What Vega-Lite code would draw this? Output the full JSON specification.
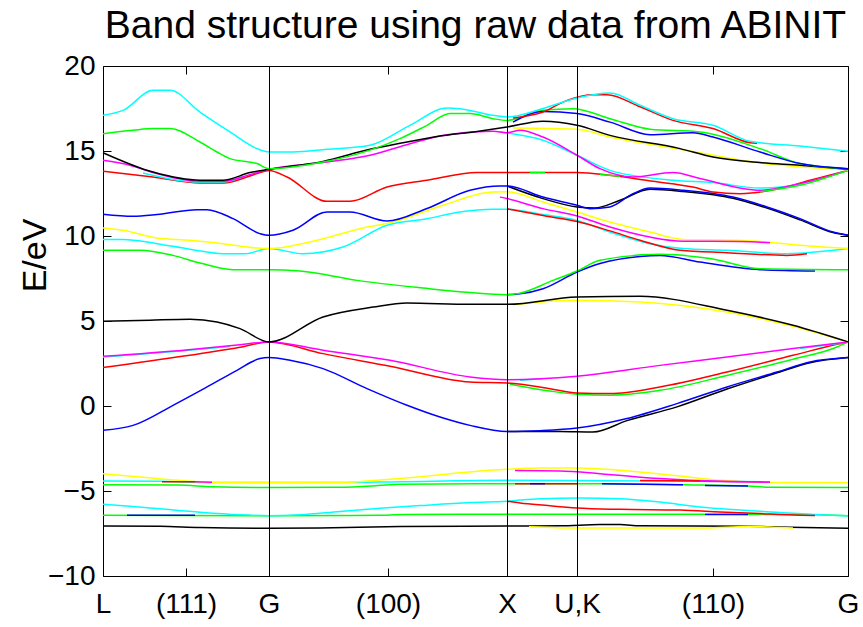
{
  "$schema": "https://vega.github.io/schema/vega-lite/v6.json",
  "width": 745,
  "height": 510,
  "autosize": {"type": "none"},
  "padding": {"left": 103, "top": 66, "right": 15, "bottom": 51},
  "background": "white",
  "config": {
    "font": "Liberation Sans",
    "view": {"stroke": "#000000", "strokeWidth": 1},
    "axis": {"grid": false, "domain": false, "tickColor": "#000000", "tickWidth": 1, "labelColor": "#000000", "labelFont": "Liberation Sans"}
  },
  "title": {
    "text": "Band structure using raw data from ABINIT",
    "font": "Liberation Sans",
    "fontSize": 39,
    "fontWeight": "normal",
    "color": "#000000",
    "anchor": "middle",
    "frame": "group",
    "baseline": "alphabetic",
    "offset": -25
  },
  "datasets": {
    "bands": [
      {"s":"k1","c":"k","x":0,"e":-7.06},{"s":"k1","c":"k","x":57,"e":-7.08},{"s":"k1","c":"k","x":97,"e":-7.15},{"s":"k1","c":"k","x":166,"e":-7.19},{"s":"k1","c":"k","x":217,"e":-7.17},{"s":"k1","c":"k","x":297,"e":-7.09},{"s":"k1","c":"k","x":404,"e":-7.06},{"s":"k1","c":"k","x":457,"e":-7.05},{"s":"k1","c":"k","x":497,"e":-6.97},{"s":"k1","c":"k","x":517,"e":-6.97},{"s":"k1","c":"k","x":537,"e":-7.05},{"s":"k1","c":"k","x":645,"e":-7.07},{"s":"k1","c":"k","x":687,"e":-7.13},{"s":"k1","c":"k","x":745,"e":-7.19},
      {"s":"y1","c":"y","x":426,"e":-7.1},{"s":"y1","c":"y","x":474,"e":-7.18},{"s":"y1","c":"y","x":602,"e":-7.18},{"s":"y1","c":"y","x":645,"e":-7.09},{"s":"y1","c":"y","x":667,"e":-7.12},{"s":"y1","c":"y","x":690,"e":-7.18},
      {"s":"g1","c":"g","x":0,"e":-6.43},{"s":"g1","c":"g","x":166,"e":-6.45},{"s":"g1","c":"g","x":275,"e":-6.43},{"s":"g1","c":"g","x":300,"e":-6.38},{"s":"g1","c":"g","x":404,"e":-6.37},{"s":"g1","c":"g","x":537,"e":-6.37},{"s":"g1","c":"g","x":697,"e":-6.38},{"s":"g1","c":"g","x":745,"e":-6.45},
      {"s":"b1","c":"b","x":24,"e":-6.43},{"s":"b1","c":"b","x":92,"e":-6.43},
      {"s":"b2","c":"b","x":602,"e":-6.38},{"s":"b2","c":"b","x":645,"e":-6.38},
      {"s":"c1","c":"c","x":0,"e":-5.78},{"s":"c1","c":"c","x":27,"e":-5.9},{"s":"c1","c":"c","x":57,"e":-6.05},{"s":"c1","c":"c","x":97,"e":-6.25},{"s":"c1","c":"c","x":137,"e":-6.4},{"s":"c1","c":"c","x":166,"e":-6.45},{"s":"c1","c":"c","x":197,"e":-6.4},{"s":"c1","c":"c","x":237,"e":-6.2},{"s":"c1","c":"c","x":277,"e":-6.02},{"s":"c1","c":"c","x":317,"e":-5.86},{"s":"c1","c":"c","x":367,"e":-5.68},{"s":"c1","c":"c","x":404,"e":-5.6},{"s":"c1","c":"c","x":437,"e":-5.45},{"s":"c1","c":"c","x":477,"e":-5.41},{"s":"c1","c":"c","x":517,"e":-5.45},{"s":"c1","c":"c","x":557,"e":-5.65},{"s":"c1","c":"c","x":597,"e":-5.94},{"s":"c1","c":"c","x":637,"e":-6.12},{"s":"c1","c":"c","x":677,"e":-6.27},{"s":"c1","c":"c","x":717,"e":-6.4},{"s":"c1","c":"c","x":745,"e":-6.45},
      {"s":"r1","c":"r","x":404,"e":-5.6},{"s":"r1","c":"r","x":417,"e":-5.7},{"s":"r1","c":"r","x":442,"e":-5.84},{"s":"r1","c":"r","x":474,"e":-6.0},{"s":"r1","c":"r","x":517,"e":-6.08},{"s":"r1","c":"r","x":577,"e":-6.12},{"s":"r1","c":"r","x":617,"e":-6.23},{"s":"r1","c":"r","x":657,"e":-6.33},{"s":"r1","c":"r","x":697,"e":-6.42},{"s":"r1","c":"r","x":712,"e":-6.44},
      {"s":"g2","c":"g","x":0,"e":-4.63},{"s":"g2","c":"g","x":75,"e":-4.65},{"s":"g2","c":"g","x":109,"e":-4.75},{"s":"g2","c":"g","x":166,"e":-4.8},{"s":"g2","c":"g","x":236,"e":-4.78},{"s":"g2","c":"g","x":275,"e":-4.68},{"s":"g2","c":"g","x":297,"e":-4.6},{"s":"g2","c":"g","x":404,"e":-4.57},{"s":"g2","c":"g","x":497,"e":-4.57},{"s":"g2","c":"g","x":580,"e":-4.63},{"s":"g2","c":"g","x":645,"e":-4.7},{"s":"g2","c":"g","x":667,"e":-4.78},{"s":"g2","c":"g","x":745,"e":-4.8},
      {"s":"r2","c":"r","x":412,"e":-4.57},{"s":"r2","c":"r","x":474,"e":-4.57},
      {"s":"b3","c":"b","x":427,"e":-4.57},{"s":"b3","c":"b","x":442,"e":-4.57},
      {"s":"b4","c":"b","x":499,"e":-4.58},{"s":"b4","c":"b","x":580,"e":-4.63},
      {"s":"b5","c":"b","x":602,"e":-4.67},{"s":"b5","c":"b","x":645,"e":-4.7},
      {"s":"c2","c":"c","x":0,"e":-4.41},{"s":"c2","c":"c","x":57,"e":-4.43},{"s":"c2","c":"c","x":107,"e":-4.5},{"s":"c2","c":"c","x":237,"e":-4.5},{"s":"c2","c":"c","x":297,"e":-4.45},{"s":"c2","c":"c","x":404,"e":-4.37},{"s":"c2","c":"c","x":497,"e":-4.4},{"s":"c2","c":"c","x":597,"e":-4.43},{"s":"c2","c":"c","x":667,"e":-4.46},
      {"s":"y2","c":"y","x":0,"e":-3.98},{"s":"y2","c":"y","x":37,"e":-4.17},{"s":"y2","c":"y","x":75,"e":-4.37},{"s":"y2","c":"y","x":107,"e":-4.5},{"s":"y2","c":"y","x":237,"e":-4.5},{"s":"y2","c":"y","x":267,"e":-4.4},{"s":"y2","c":"y","x":297,"e":-4.27},{"s":"y2","c":"y","x":337,"e":-4.05},{"s":"y2","c":"y","x":377,"e":-3.82},{"s":"y2","c":"y","x":404,"e":-3.72},{"s":"y2","c":"y","x":437,"e":-3.64},{"s":"y2","c":"y","x":477,"e":-3.64},{"s":"y2","c":"y","x":517,"e":-3.78},{"s":"y2","c":"y","x":577,"e":-4.12},{"s":"y2","c":"y","x":617,"e":-4.37},{"s":"y2","c":"y","x":667,"e":-4.5},{"s":"y2","c":"y","x":745,"e":-4.5},
      {"s":"m1","c":"m","x":412,"e":-3.8},{"s":"m1","c":"m","x":457,"e":-3.83},{"s":"m1","c":"m","x":497,"e":-3.98},{"s":"m1","c":"m","x":557,"e":-4.27},{"s":"m1","c":"m","x":617,"e":-4.43},{"s":"m1","c":"m","x":667,"e":-4.47},
      {"s":"r3","c":"r","x":59,"e":-4.45},{"s":"r3","c":"r","x":92,"e":-4.45},
      {"s":"m2","c":"m","x":92,"e":-4.46},{"s":"m2","c":"m","x":109,"e":-4.48},
      {"s":"r4","c":"r","x":537,"e":-4.38},{"s":"r4","c":"r","x":597,"e":-4.41},
      {"s":"m3","c":"m","x":597,"e":-4.42},{"s":"m3","c":"m","x":667,"e":-4.47},
      {"s":"k2","c":"k","x":404,"e":-1.5},{"s":"k2","c":"k","x":457,"e":-1.5},{"s":"k2","c":"k","x":490,"e":-1.53},{"s":"k2","c":"k","x":524,"e":-0.86},{"s":"k2","c":"k","x":574,"e":-0.05},{"s":"k2","c":"k","x":624,"e":1.0},{"s":"k2","c":"k","x":674,"e":1.95},{"s":"k2","c":"k","x":707,"e":2.55},{"s":"k2","c":"k","x":745,"e":2.85},
      {"s":"b6","c":"b","x":0,"e":-1.43},{"s":"b6","c":"b","x":30,"e":-1.14},{"s":"b6","c":"b","x":70,"e":0.04},{"s":"b6","c":"b","x":104,"e":1.12},{"s":"b6","c":"b","x":134,"e":2.1},{"s":"b6","c":"b","x":157,"e":2.79},{"s":"b6","c":"b","x":166,"e":2.85},{"s":"b6","c":"b","x":187,"e":2.69},{"s":"b6","c":"b","x":220,"e":2.2},{"s":"b6","c":"b","x":264,"e":1.02},{"s":"b6","c":"b","x":304,"e":0.04},{"s":"b6","c":"b","x":337,"e":-0.65},{"s":"b6","c":"b","x":367,"e":-1.14},{"s":"b6","c":"b","x":404,"e":-1.5},{"s":"b6","c":"b","x":437,"e":-1.45},{"s":"b6","c":"b","x":474,"e":-1.3},{"s":"b6","c":"b","x":524,"e":-0.74},{"s":"b6","c":"b","x":574,"e":0.14},{"s":"b6","c":"b","x":624,"e":1.12},{"s":"b6","c":"b","x":674,"e":2.0},{"s":"b6","c":"b","x":707,"e":2.59},{"s":"b6","c":"b","x":745,"e":2.85},
      {"s":"g3","c":"g","x":407,"e":1.28},{"s":"g3","c":"g","x":447,"e":0.88},{"s":"g3","c":"g","x":474,"e":0.69},{"s":"g3","c":"g","x":507,"e":0.63},{"s":"g3","c":"g","x":557,"e":0.92},{"s":"g3","c":"g","x":624,"e":1.8},{"s":"g3","c":"g","x":690,"e":2.75},{"s":"g3","c":"g","x":734,"e":3.47},{"s":"g3","c":"g","x":745,"e":3.77},
      {"s":"r5","c":"r","x":0,"e":2.26},{"s":"r5","c":"r","x":83,"e":2.95},{"s":"r5","c":"r","x":137,"e":3.45},{"s":"r5","c":"r","x":166,"e":3.77},{"s":"r5","c":"r","x":220,"e":3.08},{"s":"r5","c":"r","x":287,"e":2.34},{"s":"r5","c":"r","x":367,"e":1.41},{"s":"r5","c":"r","x":404,"e":1.35},{"s":"r5","c":"r","x":447,"e":1.02},{"s":"r5","c":"r","x":474,"e":0.77},{"s":"r5","c":"r","x":507,"e":0.73},{"s":"r5","c":"r","x":557,"e":1.12},{"s":"r5","c":"r","x":624,"e":2.0},{"s":"r5","c":"r","x":690,"e":2.98},{"s":"r5","c":"r","x":734,"e":3.63},{"s":"r5","c":"r","x":745,"e":3.77},
      {"s":"c3","c":"c","x":0,"e":2.88},{"s":"c3","c":"c","x":83,"e":3.26},{"s":"c3","c":"c","x":127,"e":3.5},
      {"s":"c4","c":"c","x":417,"e":1.52},{"s":"c4","c":"c","x":440,"e":1.6},
      {"s":"c5","c":"c","x":697,"e":3.38},{"s":"c5","c":"c","x":745,"e":3.75},
      {"s":"m4","c":"m","x":0,"e":2.92},{"s":"m4","c":"m","x":83,"e":3.3},{"s":"m4","c":"m","x":137,"e":3.6},{"s":"m4","c":"m","x":166,"e":3.77},{"s":"m4","c":"m","x":220,"e":3.28},{"s":"m4","c":"m","x":287,"e":2.69},{"s":"m4","c":"m","x":367,"e":1.71},{"s":"m4","c":"m","x":404,"e":1.55},{"s":"m4","c":"m","x":474,"e":1.75},{"s":"m4","c":"m","x":557,"e":2.39},{"s":"m4","c":"m","x":624,"e":2.88},{"s":"m4","c":"m","x":690,"e":3.38},{"s":"m4","c":"m","x":745,"e":3.77},
      {"s":"y3","c":"y","x":410,"e":5.96},{"s":"y3","c":"y","x":474,"e":6.22},{"s":"y3","c":"y","x":537,"e":6.12},{"s":"y3","c":"y","x":624,"e":5.53},{"s":"y3","c":"y","x":690,"e":4.69},{"s":"y3","c":"y","x":745,"e":3.77},
      {"s":"k3","c":"k","x":0,"e":4.98},{"s":"k3","c":"k","x":47,"e":5.05},{"s":"k3","c":"k","x":87,"e":5.1},{"s":"k3","c":"k","x":114,"e":4.94},{"s":"k3","c":"k","x":137,"e":4.55},{"s":"k3","c":"k","x":166,"e":3.77},{"s":"k3","c":"k","x":220,"e":5.24},{"s":"k3","c":"k","x":270,"e":5.82},{"s":"k3","c":"k","x":304,"e":6.06},{"s":"k3","c":"k","x":367,"e":5.98},{"s":"k3","c":"k","x":404,"e":5.98},{"s":"k3","c":"k","x":474,"e":6.41},{"s":"k3","c":"k","x":537,"e":6.45},{"s":"k3","c":"k","x":624,"e":5.63},{"s":"k3","c":"k","x":690,"e":4.75},{"s":"k3","c":"k","x":745,"e":3.77},
      {"s":"b7","c":"b","x":404,"e":6.55},{"s":"b7","c":"b","x":417,"e":6.6},{"s":"b7","c":"b","x":440,"e":6.9},{"s":"b7","c":"b","x":474,"e":7.88},{"s":"b7","c":"b","x":497,"e":8.38},{"s":"b7","c":"b","x":537,"e":8.8},{"s":"b7","c":"b","x":557,"e":8.86},{"s":"b7","c":"b","x":597,"e":8.47},{"s":"b7","c":"b","x":657,"e":8.02},{"s":"b7","c":"b","x":712,"e":7.94},
      {"s":"g4","c":"g","x":0,"e":9.16},{"s":"g4","c":"g","x":37,"e":9.16},{"s":"g4","c":"g","x":70,"e":8.86},{"s":"g4","c":"g","x":97,"e":8.41},{"s":"g4","c":"g","x":130,"e":8.02},{"s":"g4","c":"g","x":166,"e":8.02},{"s":"g4","c":"g","x":197,"e":7.94},{"s":"g4","c":"g","x":254,"e":7.39},{"s":"g4","c":"g","x":320,"e":6.94},{"s":"g4","c":"g","x":367,"e":6.67},{"s":"g4","c":"g","x":404,"e":6.55},{"s":"g4","c":"g","x":415,"e":6.61},{"s":"g4","c":"g","x":450,"e":7.39},{"s":"g4","c":"g","x":474,"e":7.94},{"s":"g4","c":"g","x":497,"e":8.57},{"s":"g4","c":"g","x":557,"e":8.92},{"s":"g4","c":"g","x":607,"e":8.67},{"s":"g4","c":"g","x":657,"e":8.08},{"s":"g4","c":"g","x":745,"e":8.02},
      {"s":"c6","c":"c","x":0,"e":9.79},{"s":"c6","c":"c","x":20,"e":9.79},{"s":"c6","c":"c","x":54,"e":9.55},{"s":"c6","c":"c","x":87,"e":9.22},{"s":"c6","c":"c","x":120,"e":8.96},{"s":"c6","c":"c","x":142,"e":8.96},{"s":"c6","c":"c","x":166,"e":9.26},{"s":"c6","c":"c","x":200,"e":8.96},{"s":"c6","c":"c","x":240,"e":9.35},{"s":"c6","c":"c","x":284,"e":10.63},{"s":"c6","c":"c","x":324,"e":11.02},{"s":"c6","c":"c","x":357,"e":11.41},{"s":"c6","c":"c","x":390,"e":11.57},{"s":"c6","c":"c","x":404,"e":11.57},{"s":"c6","c":"c","x":440,"e":11.26},{"s":"c6","c":"c","x":474,"e":10.92},{"s":"c6","c":"c","x":507,"e":10.23},{"s":"c6","c":"c","x":547,"e":9.55},{"s":"c6","c":"c","x":580,"e":9.26},{"s":"c6","c":"c","x":624,"e":9.16},{"s":"c6","c":"c","x":684,"e":8.96},{"s":"c6","c":"c","x":745,"e":9.26},
      {"s":"y4","c":"y","x":0,"e":10.47},{"s":"y4","c":"y","x":20,"e":10.34},{"s":"y4","c":"y","x":54,"e":9.88},{"s":"y4","c":"y","x":87,"e":9.75},{"s":"y4","c":"y","x":120,"e":9.55},{"s":"y4","c":"y","x":154,"e":9.29},{"s":"y4","c":"y","x":166,"e":9.26},{"s":"y4","c":"y","x":207,"e":9.65},{"s":"y4","c":"y","x":257,"e":10.43},{"s":"y4","c":"y","x":290,"e":10.82},{"s":"y4","c":"y","x":340,"e":11.81},{"s":"y4","c":"y","x":390,"e":12.59},{"s":"y4","c":"y","x":404,"e":12.6},{"s":"y4","c":"y","x":440,"e":12.0},{"s":"y4","c":"y","x":474,"e":11.41},{"s":"y4","c":"y","x":507,"e":10.82},{"s":"y4","c":"y","x":547,"e":10.23},{"s":"y4","c":"y","x":580,"e":9.8},{"s":"y4","c":"y","x":630,"e":9.75},{"s":"y4","c":"y","x":664,"e":9.65},{"s":"y4","c":"y","x":697,"e":9.45},{"s":"y4","c":"y","x":745,"e":9.26},
      {"s":"m5","c":"m","x":397,"e":12.29},{"s":"m5","c":"m","x":404,"e":12.2},{"s":"m5","c":"m","x":440,"e":11.61},{"s":"m5","c":"m","x":474,"e":11.18},{"s":"m5","c":"m","x":507,"e":10.53},{"s":"m5","c":"m","x":547,"e":9.94},{"s":"m5","c":"m","x":580,"e":9.69},{"s":"m5","c":"m","x":637,"e":9.68},{"s":"m5","c":"m","x":667,"e":9.6},
      {"s":"r6","c":"r","x":404,"e":11.6},{"s":"r6","c":"r","x":440,"e":11.2},{"s":"r6","c":"r","x":474,"e":10.85},{"s":"r6","c":"r","x":507,"e":10.3},{"s":"r6","c":"r","x":537,"e":9.75},{"s":"r6","c":"r","x":577,"e":9.16},{"s":"r6","c":"r","x":624,"e":9.02},{"s":"r6","c":"r","x":684,"e":8.86},{"s":"r6","c":"r","x":704,"e":8.96},
      {"s":"k4","c":"k","x":404,"e":12.94},{"s":"k4","c":"k","x":440,"e":12.2},{"s":"k4","c":"k","x":474,"e":11.71},{"s":"k4","c":"k","x":492,"e":11.65},{"s":"k4","c":"k","x":517,"e":12.1},{"s":"k4","c":"k","x":547,"e":12.75},{"s":"k4","c":"k","x":580,"e":12.62},{"s":"k4","c":"k","x":630,"e":12.22},{"s":"k4","c":"k","x":664,"e":11.64},{"s":"k4","c":"k","x":697,"e":10.95},{"s":"k4","c":"k","x":730,"e":10.2},{"s":"k4","c":"k","x":745,"e":10.04},
      {"s":"b8","c":"b","x":0,"e":11.28},{"s":"b8","c":"b","x":30,"e":11.16},{"s":"b8","c":"b","x":54,"e":11.26},{"s":"b8","c":"b","x":94,"e":11.55},{"s":"b8","c":"b","x":104,"e":11.55},{"s":"b8","c":"b","x":130,"e":11.02},{"s":"b8","c":"b","x":157,"e":10.14},{"s":"b8","c":"b","x":166,"e":10.04},{"s":"b8","c":"b","x":190,"e":10.34},{"s":"b8","c":"b","x":224,"e":11.41},{"s":"b8","c":"b","x":247,"e":11.41},{"s":"b8","c":"b","x":284,"e":10.88},{"s":"b8","c":"b","x":324,"e":11.62},{"s":"b8","c":"b","x":367,"e":12.69},{"s":"b8","c":"b","x":397,"e":12.94},{"s":"b8","c":"b","x":404,"e":12.94},{"s":"b8","c":"b","x":440,"e":12.29},{"s":"b8","c":"b","x":474,"e":11.81},{"s":"b8","c":"b","x":487,"e":11.61},{"s":"b8","c":"b","x":507,"e":11.71},{"s":"b8","c":"b","x":530,"e":12.49},{"s":"b8","c":"b","x":547,"e":12.82},{"s":"b8","c":"b","x":580,"e":12.69},{"s":"b8","c":"b","x":630,"e":12.29},{"s":"b8","c":"b","x":664,"e":11.71},{"s":"b8","c":"b","x":697,"e":11.02},{"s":"b8","c":"b","x":730,"e":10.23},{"s":"b8","c":"b","x":745,"e":10.04},
      {"s":"r7","c":"r","x":0,"e":13.81},{"s":"r7","c":"r","x":50,"e":13.47},{"s":"r7","c":"r","x":97,"e":13.12},{"s":"r7","c":"r","x":120,"e":13.12},{"s":"r7","c":"r","x":154,"e":13.67},{"s":"r7","c":"r","x":166,"e":13.86},{"s":"r7","c":"r","x":184,"e":13.47},{"s":"r7","c":"r","x":224,"e":12.04},{"s":"r7","c":"r","x":247,"e":12.04},{"s":"r7","c":"r","x":284,"e":12.88},{"s":"r7","c":"r","x":324,"e":13.28},{"s":"r7","c":"r","x":374,"e":13.73},{"s":"r7","c":"r","x":404,"e":13.73},{"s":"r7","c":"r","x":474,"e":13.73},{"s":"r7","c":"r","x":507,"e":13.57},{"s":"r7","c":"r","x":550,"e":13.22},{"s":"r7","c":"r","x":590,"e":12.88},{"s":"r7","c":"r","x":610,"e":12.59},{"s":"r7","c":"r","x":637,"e":12.49},{"s":"r7","c":"r","x":677,"e":12.79},{"s":"r7","c":"r","x":707,"e":13.28},{"s":"r7","c":"r","x":745,"e":13.86},
      {"s":"g5","c":"g","x":427,"e":13.73},{"s":"g5","c":"g","x":442,"e":13.73},
      {"s":"g6","c":"g","x":497,"e":13.62},{"s":"g6","c":"g","x":517,"e":13.52},
      {"s":"c7","c":"c","x":397,"e":16.12},{"s":"c7","c":"c","x":440,"e":15.63},{"s":"c7","c":"c","x":474,"e":14.75},{"s":"c7","c":"c","x":507,"e":13.86},{"s":"c7","c":"c","x":570,"e":13.28},{"s":"c7","c":"c","x":610,"e":13.14},{"s":"c7","c":"c","x":657,"e":12.82},{"s":"c7","c":"c","x":697,"e":13.05},{"s":"c7","c":"c","x":745,"e":13.86},
      {"s":"c8","c":"c","x":40,"e":13.7},{"s":"c8","c":"c","x":97,"e":13.17},{"s":"c8","c":"c","x":120,"e":13.17},{"s":"c8","c":"c","x":140,"e":13.5},
      {"s":"m6","c":"m","x":0,"e":14.45},{"s":"m6","c":"m","x":27,"e":14.16},{"s":"m6","c":"m","x":50,"e":13.73},{"s":"m6","c":"m","x":97,"e":13.22},{"s":"m6","c":"m","x":120,"e":13.22},{"s":"m6","c":"m","x":147,"e":13.61},{"s":"m6","c":"m","x":166,"e":13.92},{"s":"m6","c":"m","x":224,"e":14.35},{"s":"m6","c":"m","x":267,"e":14.75},{"s":"m6","c":"m","x":307,"e":15.43},{"s":"m6","c":"m","x":344,"e":15.96},{"s":"m6","c":"m","x":390,"e":16.16},{"s":"m6","c":"m","x":404,"e":16.08},{"s":"m6","c":"m","x":417,"e":16.22},{"s":"m6","c":"m","x":440,"e":15.82},{"s":"m6","c":"m","x":474,"e":14.75},{"s":"m6","c":"m","x":497,"e":13.96},{"s":"m6","c":"m","x":530,"e":13.47},{"s":"m6","c":"m","x":570,"e":13.73},{"s":"m6","c":"m","x":597,"e":13.38},{"s":"m6","c":"m","x":657,"e":12.69},{"s":"m6","c":"m","x":697,"e":13.08},{"s":"m6","c":"m","x":745,"e":13.86},
      {"s":"g7","c":"g","x":657,"e":12.6},{"s":"g7","c":"g","x":697,"e":12.98},{"s":"g7","c":"g","x":745,"e":13.86},
      {"s":"y5","c":"y","x":410,"e":16.35},{"s":"y5","c":"y","x":474,"e":16.28},{"s":"y5","c":"y","x":507,"e":15.82},{"s":"y5","c":"y","x":577,"e":15.1},{"s":"y5","c":"y","x":657,"e":14.3},{"s":"y5","c":"y","x":745,"e":13.9},
      {"s":"k5","c":"k","x":0,"e":14.9},{"s":"k5","c":"k","x":50,"e":13.76},{"s":"k5","c":"k","x":97,"e":13.28},{"s":"k5","c":"k","x":120,"e":13.28},{"s":"k5","c":"k","x":147,"e":13.73},{"s":"k5","c":"k","x":166,"e":13.92},{"s":"k5","c":"k","x":220,"e":14.39},{"s":"k5","c":"k","x":267,"e":15.1},{"s":"k5","c":"k","x":297,"e":15.45},{"s":"k5","c":"k","x":334,"e":15.85},{"s":"k5","c":"k","x":374,"e":16.15},{"s":"k5","c":"k","x":404,"e":16.41},{"s":"k5","c":"k","x":440,"e":16.75},{"s":"k5","c":"k","x":474,"e":16.51},{"s":"k5","c":"k","x":507,"e":15.92},{"s":"k5","c":"k","x":577,"e":15.14},{"s":"k5","c":"k","x":610,"e":14.65},{"s":"k5","c":"k","x":657,"e":14.32},{"s":"k5","c":"k","x":697,"e":14.16},{"s":"k5","c":"k","x":745,"e":13.92},
      {"s":"g8","c":"g","x":0,"e":16.02},{"s":"g8","c":"g","x":30,"e":16.22},{"s":"g8","c":"g","x":50,"e":16.32},{"s":"g8","c":"g","x":67,"e":16.32},{"s":"g8","c":"g","x":97,"e":15.53},{"s":"g8","c":"g","x":114,"e":14.94},{"s":"g8","c":"g","x":127,"e":14.55},{"s":"g8","c":"g","x":154,"e":14.26},{"s":"g8","c":"g","x":166,"e":13.96},{"s":"g8","c":"g","x":220,"e":14.35},{"s":"g8","c":"g","x":267,"e":15.05},{"s":"g8","c":"g","x":297,"e":15.73},{"s":"g8","c":"g","x":324,"e":16.51},{"s":"g8","c":"g","x":347,"e":17.2},{"s":"g8","c":"g","x":367,"e":17.2},{"s":"g8","c":"g","x":390,"e":16.9},{"s":"g8","c":"g","x":404,"e":16.8},{"s":"g8","c":"g","x":440,"e":17.39},{"s":"g8","c":"g","x":470,"e":17.49},{"s":"g8","c":"g","x":507,"e":16.9},{"s":"g8","c":"g","x":547,"e":16.28},{"s":"g8","c":"g","x":597,"e":16.12},{"s":"g8","c":"g","x":657,"e":15.14},{"s":"g8","c":"g","x":697,"e":14.26},{"s":"g8","c":"g","x":745,"e":13.96},
      {"s":"b9","c":"b","x":410,"e":16.7},{"s":"b9","c":"b","x":440,"e":17.33},{"s":"b9","c":"b","x":474,"e":17.2},{"s":"b9","c":"b","x":507,"e":16.7},{"s":"b9","c":"b","x":547,"e":15.96},{"s":"b9","c":"b","x":590,"e":16.08},{"s":"b9","c":"b","x":610,"e":15.82},{"s":"b9","c":"b","x":657,"e":14.94},{"s":"b9","c":"b","x":697,"e":14.26},{"s":"b9","c":"b","x":745,"e":13.96},
      {"s":"r8","c":"r","x":410,"e":16.94},{"s":"r8","c":"r","x":440,"e":17.29},{"s":"r8","c":"r","x":464,"e":17.98},{"s":"r8","c":"r","x":490,"e":18.31},{"s":"r8","c":"r","x":504,"e":18.31},{"s":"r8","c":"r","x":537,"e":17.6},{"s":"r8","c":"r","x":570,"e":16.8},{"s":"r8","c":"r","x":610,"e":16.32},{"s":"r8","c":"r","x":647,"e":15.49},{"s":"r8","c":"r","x":654,"e":15.45},
      {"s":"c9","c":"c","x":0,"e":17.1},{"s":"c9","c":"c","x":20,"e":17.39},{"s":"c9","c":"c","x":50,"e":18.57},{"s":"c9","c":"c","x":67,"e":18.57},{"s":"c9","c":"c","x":97,"e":17.29},{"s":"c9","c":"c","x":127,"e":16.12},{"s":"c9","c":"c","x":154,"e":15.14},{"s":"c9","c":"c","x":166,"e":14.94},{"s":"c9","c":"c","x":190,"e":14.94},{"s":"c9","c":"c","x":224,"e":15.1},{"s":"c9","c":"c","x":267,"e":15.34},{"s":"c9","c":"c","x":307,"e":16.51},{"s":"c9","c":"c","x":344,"e":17.53},{"s":"c9","c":"c","x":357,"e":17.49},{"s":"c9","c":"c","x":390,"e":17.1},{"s":"c9","c":"c","x":404,"e":17.0},{"s":"c9","c":"c","x":440,"e":17.5},{"s":"c9","c":"c","x":474,"e":18.12},{"s":"c9","c":"c","x":507,"e":18.41},{"s":"c9","c":"c","x":537,"e":17.69},{"s":"c9","c":"c","x":570,"e":16.9},{"s":"c9","c":"c","x":610,"e":16.51},{"s":"c9","c":"c","x":647,"e":15.57},{"s":"c9","c":"c","x":697,"e":15.29},{"s":"c9","c":"c","x":745,"e":14.98}
    ],
    "kpoints": [{"x": 166}, {"x": 404}, {"x": 474}]
  },
  "layer": [
    {
      "data": {"name": "bands"},
      "mark": {"type": "line", "strokeWidth": 1.5, "interpolate": "monotone"},
      "encoding": {
        "x": {
          "field": "x", "type": "quantitative",
          "scale": {"domain": [0, 745], "nice": false, "zero": false},
          "axis": {
            "orient": "bottom", "title": null,
            "values": [0, 83, 166, 285, 404, 474, 610, 745],
            "labelExpr": "datum.value == 0 ? 'L' : datum.value == 83 ? '(111)' : datum.value == 166 ? 'G' : datum.value == 285 ? '(100)' : datum.value == 404 ? 'X' : datum.value == 474 ? 'U,K' : datum.value == 610 ? '(110)' : 'G'",
            "tickSize": -8, "labelPadding": 22, "labelFontSize": 28, "labelFlush": false, "labelOverlap": false
          }
        },
        "y": {
          "field": "e", "type": "quantitative",
          "scale": {"domain": [-10, 20], "nice": false, "zero": false},
          "axis": {
            "orient": "left", "title": "E/eV",
            "values": [-10, -5, 0, 5, 10, 15, 20],
            "tickSize": -8, "labelPadding": 16, "labelFontSize": 28, "labelFlush": false, "labelOverlap": false,
            "titleFont": "Liberation Sans", "titleFontSize": 34, "titleFontWeight": "normal", "titleColor": "#000000",
            "titleAngle": -90, "titleBaseline": "alphabetic", "titleAlign": "center", "titleX": -58, "titleY": 189
          }
        },
        "color": {
          "field": "c", "type": "nominal", "legend": null,
          "scale": {"domain": ["b", "g", "r", "c", "m", "y", "k"], "range": ["#0000ff", "#00ff00", "#ff0000", "#00ffff", "#ff00ff", "#ffff00", "#000000"]}
        },
        "detail": {"field": "s", "type": "nominal"},
        "order": {"field": "x", "type": "quantitative"}
      }
    },
    {
      "data": {"name": "kpoints"},
      "mark": {"type": "rule", "color": "#000000", "strokeWidth": 1, "xOffset": 0.5},
      "encoding": {
        "x": {
          "field": "x", "type": "quantitative",
          "axis": {"orient": "top", "title": null, "labels": false, "values": [83, 285, 610], "tickSize": -8}
        },
        "y": {"datum": -10, "type": "quantitative", "axis": {"orient": "right", "title": null, "labels": false, "values": [-10, -5, 0, 5, 10, 15, 20], "tickSize": -8}},
        "y2": {"datum": 20}
      }
    }
  ],
  "resolve": {"axis": {"x": "independent", "y": "independent"}}
}
